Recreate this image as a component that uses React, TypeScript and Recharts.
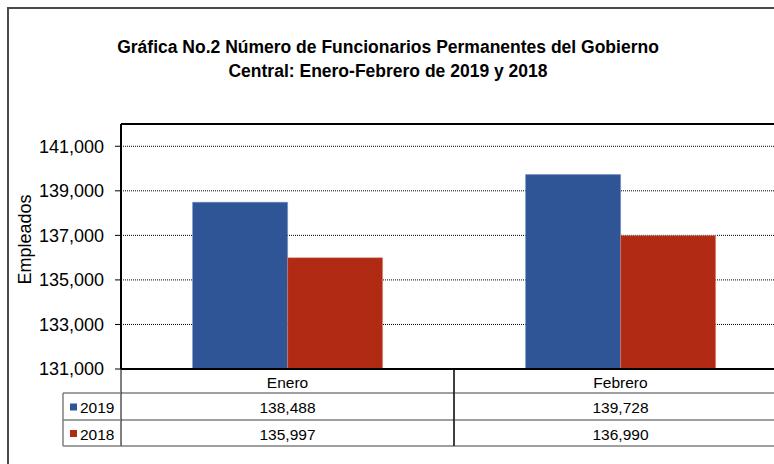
import {
  Bar,
  BarChart,
  CartesianGrid,
  ReferenceLine,
  XAxis,
  YAxis,
} from "recharts";

const months = ["Enero", "Febrero"];
const seriesNames = ["2019", "2018"];
const serie2019 = [138488, 139728];
const serie2018 = [135997, 136990];
const yTicks = [131000, 133000, 135000, 137000, 139000, 141000];
const yDomain = [131000, 142000];

const BLUE = "#2f5597";
const RED = "#b02a14";
const FONT = "'Liberation Sans', Arial, sans-serif";

// layout of the excel-like chart (plot area runs past the right edge)
const CHART_W = 800;
const CHART_H = 464;
const MARGIN = { top: 124, right: 13, bottom: 15, left: 21 };
const Y_AXIS_W = 100;
const X_AXIS_H = 80;
const PLOT_LEFT = MARGIN.left + Y_AXIS_W;
const PLOT_RIGHT = CHART_W - MARGIN.right;
const AXIS_Y = CHART_H - MARGIN.bottom - X_AXIS_H;
const BAND = (PLOT_RIGHT - PLOT_LEFT) / months.length;
const ROW_LINES = [AXIS_Y + 24, AXIS_Y + 51, AXIS_Y + 77];
const LEGEND_LEFT = 63;
const TABLE_FONT = 15.5;

const data = months.map((m, i) => ({
  month: m,
  y2019: serie2019[i],
  y2018: serie2018[i],
}));

const fmt = (v: number) => v.toLocaleString("en-US");

function TableTick(props: any) {
  const { x, payload, index } = props;
  const i = payload?.index ?? index;
  const left = x - BAND / 2;
  const right = x + BAND / 2;
  const rows = [serie2019[i], serie2018[i]];
  const gray = "#7f7f7f";
  return (
    <g fontFamily={FONT}>
      {ROW_LINES.map((ly) => (
        <line
          key={ly}
          x1={left}
          x2={right}
          y1={ly}
          y2={ly}
          stroke={gray}
          strokeWidth={1.5}
        />
      ))}
      <line x1={left} x2={left} y1={AXIS_Y} y2={ROW_LINES[2]} stroke="#000" />
      <line x1={right} x2={right} y1={AXIS_Y} y2={ROW_LINES[2]} stroke="#000" />
      <text
        x={x}
        y={(AXIS_Y + ROW_LINES[0]) / 2 + 1}
        textAnchor="middle"
        dominantBaseline="central"
        fontSize={TABLE_FONT}
        fill="#000"
      >
        {payload.value}
      </text>
      {rows.map((v, r) => (
        <text
          key={r}
          x={x}
          y={(ROW_LINES[r] + ROW_LINES[r + 1]) / 2 + 1}
          textAnchor="middle"
          dominantBaseline="central"
          fontSize={TABLE_FONT}
          fill="#000"
        >
          {fmt(v)}
        </text>
      ))}
      {i === 0 && (
        <g>
          <line
            x1={LEGEND_LEFT}
            x2={LEGEND_LEFT}
            y1={ROW_LINES[0]}
            y2={ROW_LINES[2]}
            stroke={gray}
            strokeWidth={1.5}
          />
          {ROW_LINES.map((ly) => (
            <line
              key={ly}
              x1={LEGEND_LEFT}
              x2={left}
              y1={ly}
              y2={ly}
              stroke={gray}
              strokeWidth={1.5}
            />
          ))}
          {seriesNames.map((name, r) => {
            const cy = (ROW_LINES[r] + ROW_LINES[r + 1]) / 2;
            return (
              <g key={name}>
                <rect
                  x={LEGEND_LEFT + 7}
                  y={cy - 3}
                  width={7}
                  height={7}
                  fill={r === 0 ? BLUE : RED}
                />
                <text
                  x={LEGEND_LEFT + 17}
                  y={cy + 1}
                  dominantBaseline="central"
                  fontSize={TABLE_FONT}
                  fill="#000"
                >
                  {name}
                </text>
              </g>
            );
          })}
        </g>
      )}
    </g>
  );
}

export default function App() {
  return (
    <div
      style={{
        position: "absolute",
        left: 0,
        top: 0,
        width: 774,
        height: 464,
        overflow: "hidden",
        background: "#fff",
        fontFamily: FONT,
      }}
    >
      <div
        style={{
          position: "absolute",
          left: 7,
          top: 7,
          width: 900,
          height: 900,
          borderTop: "2px solid #4a4a4a",
          borderLeft: "2px solid #4a4a4a",
        }}
      />
      <div
        style={{
          position: "absolute",
          left: 0,
          top: 35,
          width: 776,
          textAlign: "center",
          fontWeight: "bold",
          fontSize: 17.5,
          lineHeight: "24px",
          color: "#000",
        }}
      >
        Gráfica No.2 Número de Funcionarios Permanentes del Gobierno
        <br />
        Central: Enero-Febrero de 2019 y 2018
      </div>
      <div style={{ position: "absolute", left: 0, top: 0 }}>
        <BarChart
          width={CHART_W}
          height={CHART_H}
          data={data}
          margin={MARGIN}
          barCategoryGap="21.5%"
          barGap={0}
        >
          <CartesianGrid
            vertical={false}
            stroke="#000"
            strokeDasharray="1 1"
          />
          <XAxis
            dataKey="month"
            height={X_AXIS_H}
            interval={0}
            tickLine={false}
            axisLine={{ stroke: "#000", strokeWidth: 2 }}
            tick={(p: any) => <TableTick {...p} />}
          />
          <YAxis
            width={Y_AXIS_W}
            domain={yDomain}
            ticks={yTicks}
            allowDataOverflow
            tickFormatter={(v) => fmt(Number(v))}
            tick={{ fill: "#000", fontSize: 18, fontFamily: FONT }}
            tickSize={6}
            tickMargin={11}
            tickLine={{ stroke: "#000" }}
            axisLine={{ stroke: "#000", strokeWidth: 2 }}
            label={{
              value: "Empleados",
              angle: -90,
              position: "insideLeft",
              offset: 4,
              dy: -7,
              style: {
                textAnchor: "middle",
                fontSize: 18,
                fill: "#000",
                fontFamily: FONT,
              },
            }}
          />
          <ReferenceLine y={142000} stroke="#000" strokeWidth={2} />
          <Bar
            dataKey="y2019"
            name={seriesNames[0]}
            fill={BLUE}
            stroke="#6d8cc0"
            strokeWidth={0.5}
            isAnimationActive={false}
          />
          <Bar
            dataKey="y2018"
            name={seriesNames[1]}
            fill={RED}
            stroke="#d98a7c"
            strokeWidth={0.5}
            isAnimationActive={false}
          />
        </BarChart>
      </div>
    </div>
  );
}
